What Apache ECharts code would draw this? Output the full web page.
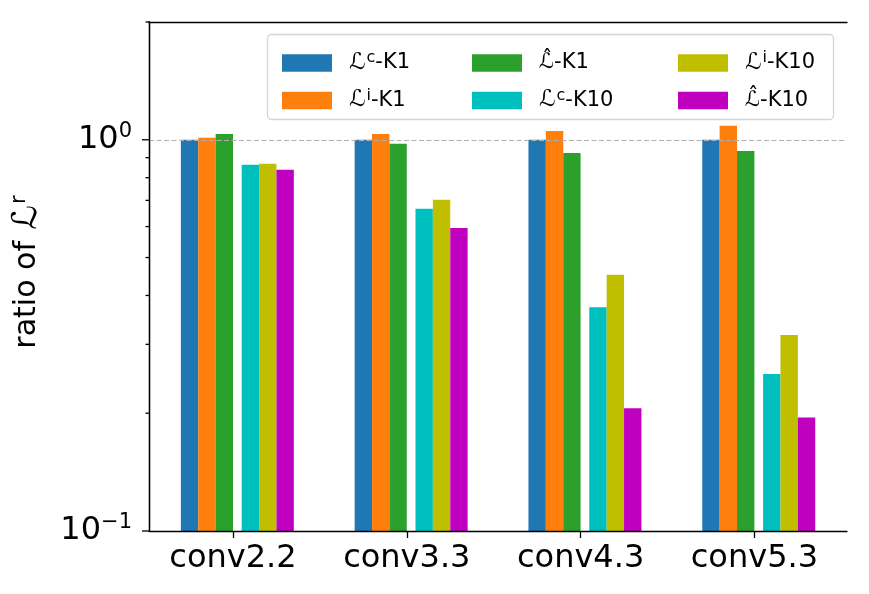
<!DOCTYPE html>
<html>
<head>
<meta charset="utf-8">
<script src="https://cdn.jsdelivr.net/npm/echarts@6/dist/echarts.min.js"></script>
<style>
html,body{margin:0;padding:0;background:#fff;}
#chart{width:869px;height:594px;}
</style>
</head>
<body>
<div id="chart"></div>
<script>
// ---- data ----
var categories = ['conv2.2', 'conv3.3', 'conv4.3', 'conv5.3'];
var seriesNames = ['ℒᶜ-K1', 'ℒⁱ-K1', 'ℒ̂-K1', 'ℒᶜ-K10', 'ℒⁱ-K10', 'ℒ̂-K10'];
var lcK1   = [1.000, 1.000, 1.000, 1.000];
var liK1   = [1.012, 1.034, 1.053, 1.086];
var lhK1   = [1.034, 0.977, 0.925, 0.936];
var lcK10  = [0.863, 0.666, 0.373, 0.252];
var liK10  = [0.868, 0.703, 0.452, 0.317];
var lhK10  = [0.838, 0.595, 0.206, 0.195];
var yMin = 0.1, yMax = 2;
var yMajorTicks = [0.1, 1];
var yMinorTicks = [0.2, 0.3, 0.4, 0.5, 0.6, 0.7, 0.8, 0.9, 2];
var yTickLabels = {'0.1': ['10', '−1'], '1': ['10', '0']};

var colors = ['#1f77b4', '#ff7f0e', '#2ca02c', '#00bfbf', '#bfbf00', '#bf00bf'];
var values = [lcK1, liK1, lhK1, lcK10, liK10, lhK10];
// left edge of each bar relative to the category centre, in category-band units
var barOffsets = [-0.3, -0.2, -0.1, 0.05, 0.15, 0.25];
var barFrac = 0.1;

var FONT = 'DejaVu Sans';

function richName(name) {
  if (name.indexOf('ℒ̂') === 0) return name;
  var rest = name.slice(1).replace('ᶜ', '{sup|c}').replace('ⁱ', '{sup|i}');
  return '{L|ℒ}' + rest;
}

var chart = echarts.init(document.getElementById('chart'), null, {renderer: 'canvas'});

function barSeries(i) {
  return {
    type: 'custom', name: seriesNames[i],
    xAxisIndex: 2, yAxisIndex: 2, z: 2,
    itemStyle: {color: colors[i]},
    data: values[i].map(function (v, k) { return [k, v]; }),
    renderItem: function (params, api) {
      var cat = api.value(0);
      var top = api.coord([cat, api.value(1)]);
      var base = api.coord([cat, yMin]);
      var band = api.size([1, 0])[0];
      var x = top[0] + barOffsets[i] * band;
      return {
        type: 'rect',
        shape: {x: x, y: top[1], width: barFrac * band, height: base[1] - top[1]},
        style: {fill: colors[i]}
      };
    }
  };
}

function tickSeries(data, len) {
  return {
    type: 'custom', xAxisIndex: 0, yAxisIndex: 0, silent: true, z: 12, clip: false,
    data: data.map(function (v) { return [0, v]; }),
    renderItem: function (params, api) {
      var p = api.coord([api.value(0), api.value(1)]);
      return {type: 'line', shape: {x1: p[0] - len, y1: p[1], x2: p[0], y2: p[1]},
        style: {stroke: '#000', lineWidth: 1.3}};
    }
  };
}

var legendRich = {
  L: {fontSize: 23, lineHeight: 26, fontFamily: FONT, color: '#000', padding: [0, 1, 0, 0]},
  sup: {fontSize: 16, lineHeight: 16, verticalAlign: 'top', fontFamily: FONT, color: '#000'}
};
function legendCol(names, left) {
  return {
    orient: 'vertical', left: left, top: 45, z: 20,
    itemWidth: 50, itemHeight: 17.5, itemGap: 11.5, icon: 'rect',
    data: names,
    formatter: function (n) { return richName(n); },
    textStyle: {fontFamily: FONT, fontSize: 21, lineHeight: 26, color: '#000',
      padding: [0, 0, 0, 12], rich: legendRich},
    selectedMode: false
  };
}

var frameAxisLine = {show: true, lineStyle: {color: '#000', width: 1.3}};

var option = {
  animation: false,
  backgroundColor: '#fff',
  graphic: [{
    type: 'rect', z: 3, silent: true,
    shape: {x: 267.5, y: 34.5, width: 566, height: 85, r: 4},
    style: {fill: 'rgba(255,255,255,0.8)', stroke: '#d4d4d4', lineWidth: 1.3}
  }],
  legend: [
    legendCol([seriesNames[0], seriesNames[1]], 277),
    legendCol([seriesNames[2], seriesNames[3]], 467),
    legendCol([seriesNames[4], seriesNames[5]], 673)
  ],
  grid: [
    {left: 149, right: 22, top: 22, bottom: 63},
    {left: 149, right: 22, top: 22, bottom: 63},
    {left: 146.1, right: 27.7, top: 22, bottom: 63}
  ],
  xAxis: [
    {type: 'value', gridIndex: 0, min: 0, max: 1, position: 'bottom', z: 10,
      axisLine: frameAxisLine, axisTick: {show: false}, axisLabel: {show: false}, splitLine: {show: false}},
    {type: 'value', gridIndex: 1, min: 0, max: 1, position: 'top', z: 10,
      axisLine: frameAxisLine, axisTick: {show: false}, axisLabel: {show: false}, splitLine: {show: false}},
    {type: 'category', gridIndex: 2, data: categories, position: 'bottom', z: 10,
      axisLine: {show: false},
      axisTick: {show: true, alignWithLabel: true, length: 7, lineStyle: {color: '#000', width: 1.3}},
      axisLabel: {fontFamily: FONT, fontSize: 32, color: '#000', margin: 12}}
  ],
  yAxis: [
    {type: 'log', gridIndex: 0, logBase: 10, min: yMin, max: yMax, position: 'left', z: 10,
      axisLine: frameAxisLine, axisTick: {show: false},
      splitLine: {show: true, lineStyle: {color: '#b0b0b0', width: 1.1, type: [5, 2.5]}},
      axisLabel: {
        margin: 17, color: '#000',
        formatter: function (v) {
          var key = String(Math.round(v * 1000) / 1000);
          var t = yTickLabels[key];
          return t ? '{b|' + t[0] + '}{s|' + t[1] + '}' : '';
        },
        rich: {
          b: {fontFamily: FONT, fontSize: 32, lineHeight: 38, color: '#000'},
          s: {fontFamily: FONT, fontSize: 21, lineHeight: 21, verticalAlign: 'top', color: '#000'}
        }
      },
      name: 'ratio of {L|ℒ}{s|r}', nameLocation: 'middle', nameGap: 104, nameRotate: 90,
      nameTextStyle: {fontFamily: FONT, fontSize: 30, lineHeight: 36, color: '#000',
        padding: [0, 0, 0, 9],
        rich: {
          L: {fontFamily: FONT, fontSize: 34, lineHeight: 36, color: '#000', padding: [0, 1, 0, 2]},
          s: {fontFamily: FONT, fontSize: 21, lineHeight: 21, verticalAlign: 'top', color: '#000'}
        }}
    },
    {type: 'log', gridIndex: 1, logBase: 10, min: yMin, max: yMax, position: 'right', z: 10,
      axisLine: frameAxisLine, axisTick: {show: false}, axisLabel: {show: false}, splitLine: {show: false}},
    {type: 'log', gridIndex: 2, logBase: 10, min: yMin, max: yMax, show: false}
  ],
  series: [
    barSeries(0), barSeries(1), barSeries(2),
    barSeries(3), barSeries(4), barSeries(5),
    tickSeries(yMajorTicks, 7),
    tickSeries(yMinorTicks, 3.5)
  ]
};
chart.setOption(option);
</script>
</body>
</html>
